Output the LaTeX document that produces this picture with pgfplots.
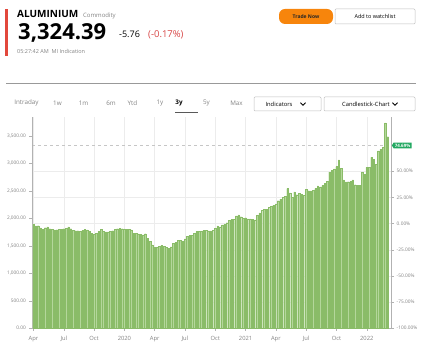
\documentclass[border=0pt]{standalone}
\usepackage{pgfplots}
\pgfplotsset{compat=1.18}
\usepackage{pgfplotstable}
\usepackage{fontspec}
\setmainfont{Open Sans}
\usetikzlibrary{shapes.symbols}
\definecolor{barfill}{RGB}{180,215,155}
\definecolor{baredge}{RGB}{138,188,104}
\definecolor{taggreen}{RGB}{34,168,97}
\definecolor{redbar}{RGB}{226,72,60}
\definecolor{orangebtn}{RGB}{247,133,12}
\definecolor{lossred}{RGB}{215,70,70}
\definecolor{txtgray}{RGB}{130,130,130}
\pgfplotstableread{
x y
0 1896
1 1860
2 1865
3 1825
4 1805
5 1830
6 1845
7 1810
8 1795
9 1790
10 1792
11 1798
12 1805
13 1812
14 1820
15 1845
16 1810
17 1785
18 1775
19 1775
20 1765
21 1778
22 1795
23 1790
24 1760
25 1725
26 1712
27 1730
28 1758
29 1800
30 1765
31 1752
32 1755
33 1762
34 1775
35 1800
36 1812
37 1818
38 1810
39 1808
40 1805
41 1800
42 1790
43 1730
44 1722
45 1718
46 1708
47 1700
48 1720
49 1640
50 1580
51 1515
52 1478
53 1475
54 1495
55 1512
56 1495
57 1478
58 1458
59 1482
60 1540
61 1560
62 1602
63 1596
64 1582
65 1625
66 1675
67 1688
68 1696
69 1725
70 1758
71 1764
72 1768
73 1786
74 1785
75 1770
76 1770
77 1785
78 1820
79 1860
80 1845
81 1880
82 1900
83 1920
84 1960
85 1982
86 1985
87 2045
88 2060
89 2030
90 2005
91 2010
92 1990
93 1988
94 1985
95 1972
96 2050
97 2100
98 2150
99 2158
100 2160
101 2205
102 2218
103 2235
104 2260
105 2320
106 2345
107 2380
108 2400
109 2540
110 2460
111 2385
112 2480
113 2430
114 2452
115 2440
116 2420
117 2525
118 2502
119 2500
120 2512
121 2540
122 2590
123 2570
124 2595
125 2640
126 2670
127 2840
128 2870
129 2900
130 2940
131 3060
132 2905
133 2700
134 2660
135 2665
136 2668
137 2700
138 2610
139 2605
140 2600
141 2836
142 2800
143 2925
144 2930
145 3109
146 3070
147 2982
148 3224
149 3255
150 3296
151 3733
152 3484
}\aluminium
\begin{document}
\begin{tikzpicture}[x=1pt,y=1pt]
\path[use as bounding box] (0,0) rectangle (421,352);
\coordinate (O) at (32,23.7);
% ---------- header ----------
\fill[redbar] (5,343) rectangle (8,296);
\node[anchor=base west, inner sep=0pt, font=\fontsize{10}{12}\selectfont\bfseries] at (17,334) {ALUMINIUM};
\node[anchor=base west, inner sep=0pt, font=\fontsize{6}{7}\selectfont, text=txtgray] at (83,334) {Commodity};
\node[anchor=base west, inner sep=0pt, font=\fontsize{22}{24}\selectfont\bfseries] at (18,312) {3,324.39};
\node[anchor=base west, inner sep=0pt, font=\fontsize{9}{10}\selectfont] at (119,314) {-5.76};
\node[anchor=base west, inner sep=0pt, font=\fontsize{9.5}{10}\selectfont, text=lossred] at (148,314) {(-0.17\%)};
\node[anchor=base west, inner sep=0pt, font=\fontsize{5.5}{6}\selectfont, text=txtgray] at (17,298) {05:27:42 AM\ \ MI Indication};
\fill[orangebtn, rounded corners=6pt] (279,343) rectangle (333,328);
\node[font=\fontsize{5}{6}\selectfont\bfseries, text=black!85] at (306,335.5) {Trade Now};
\draw[gray!50, line width=0.5pt, rounded corners=1pt] (335,343) rectangle (415,328);
\node[font=\fontsize{5.5}{6}\selectfont] at (375,335.5) {Add to watchlist};
\draw[gray!80, line width=0.8pt] (6,268.7) -- (416,268.7);
% ---------- tabs ----------
\begin{scope}[every node/.style={font=\fontsize{6.3}{7}\selectfont, text=txtgray, inner sep=0pt}]
\node at (26.5,249) {Intraday};
\node at (57.5,249) {1w};
\node at (83.5,249) {1m};
\node at (111,249) {6m};
\node at (132.5,249) {Ytd};
\node at (160,249) {1y};
\node[text=black, font=\fontsize{6.3}{7}\selectfont\bfseries] at (179,249) {3y};
\node at (206.5,249) {5y};
\node at (236.5,249) {Max};
\end{scope}
\draw[black!65, line width=1.3pt] (175,239.5) -- (198,239.5);
\draw[gray!50, line width=0.5pt, rounded corners=1pt] (254,255) rectangle (321,241);
\node[font=\fontsize{5.8}{6}\selectfont, inner sep=0pt] at (279,248) {Indicators};
\draw[line width=0.8pt] (300.5,249.3) -- (303,246.8) -- (305.5,249.3);
\draw[gray!50, line width=0.5pt, rounded corners=1pt] (324,255) rectangle (415,241);
\node[font=\fontsize{5.8}{6}\selectfont, inner sep=0pt] at (366,248) {Candlestick-Chart};
\draw[line width=0.8pt] (392.5,249.3) -- (395,246.8) -- (397.5,249.3);
% ---------- background axis: grid, x labels, percent axis ----------
\begin{axis}[
  at={(O)}, anchor=south west,
  scale only axis, width=359.7pt, height=211.3pt,
  xmin=-0.64, xmax=153.7, ymin=-100, ymax=101.87,
  axis x line*=bottom, axis y line*=right,
  axis line style={gray!60, line width=0.6pt},
  xtick={0,13,26,39,52,65,78,91,104,117,130,143},
  xticklabels={Apr,Jul,Oct,2020,Apr,Jul,Oct,2021,Apr,Jul,Oct,2022},
  ytick={-100,-75,-50,-25,0,25,50},
  yticklabels={-100.00\%,-75.00\%,-50.00\%,-25.00\%,0.00\%,25.00\%,50.00\%},
  xmajorgrids, ymajorgrids,
  major grid style={gray!15, line width=0.5pt},
  tick align=outside, major tick length=2.5pt,
  tick style={gray!60, line width=0.5pt},
  xticklabel style={font=\fontsize{5.8}{6}\selectfont, text=txtgray, yshift=-2pt},
  yticklabel style={font=\fontsize{4.8}{5}\selectfont, text=txtgray, xshift=-1pt},
  clip=false,
]
\addplot[gray!45, dashed, line width=0.5pt] coordinates {(-0.64,74.69) (153.7,74.69)};
\end{axis}
% ---------- bars and price axis ----------
\begin{axis}[
  at={(O)}, anchor=south west,
  scale only axis, width=359.7pt, height=211.3pt,
  xmin=-0.64, xmax=153.7, ymin=0, ymax=3842,
  axis x line=none, axis y line*=left,
  axis line style={gray!60, line width=0.6pt},
  ytick={0,500,1000,1500,2000,2500,3000,3500},
  yticklabels={0.00,500.00,{1,000.00},{1,500.00},{2,000.00},{2,500.00},{3,000.00},{3,500.00}},
  tick align=outside, major tick length=2.5pt,
  tick style={gray!60, line width=0.5pt},
  yticklabel style={font=\fontsize{4.8}{5}\selectfont, text=txtgray},
  ybar, bar width=0.68,
  clip=false,
]
\addplot[fill=barfill, draw=baredge, line width=0.25pt] table[x=x, y=y] {\aluminium};
\node[signal, signal to=west, signal pointer angle=120, fill=taggreen, text=white,
  font=\fontsize{4.5}{5}\selectfont\bfseries, inner sep=1.2pt, anchor=west] at (axis cs:153.7,3324.4) {74.69\%};
\end{axis}
\end{tikzpicture}
\end{document}
